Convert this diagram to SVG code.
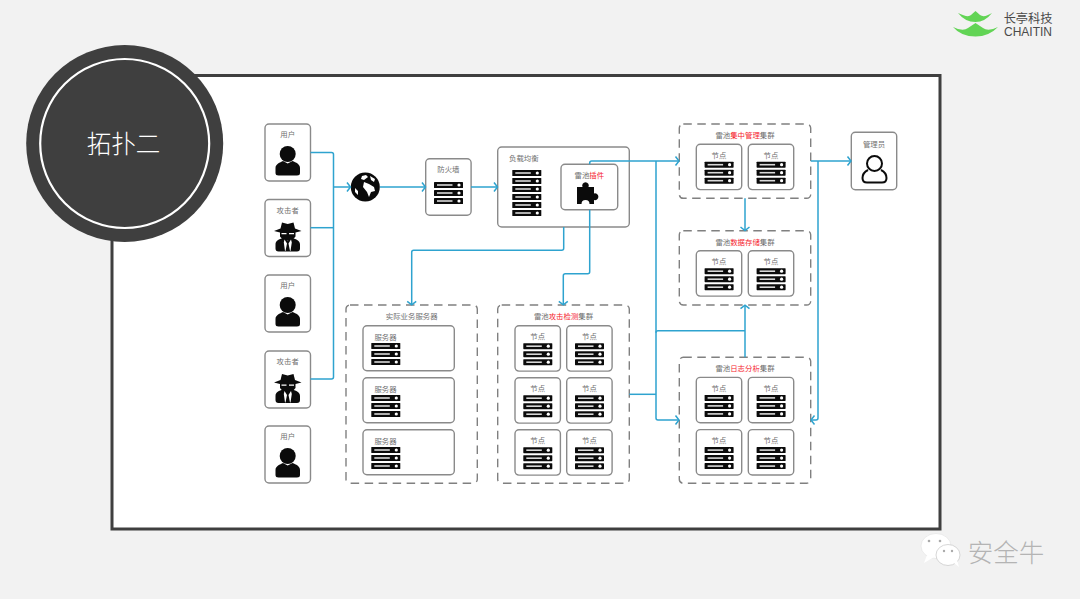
<svg xmlns="http://www.w3.org/2000/svg" xmlns:xlink="http://www.w3.org/1999/xlink" width="1080" height="599" viewBox="0 0 1080 599">
<style>
text{font-family:"Noto Sans CJK SC","Liberation Sans",sans-serif;font-size:7.4px;fill:#707070;text-anchor:middle}
.red{fill:#f5222d}
.box{fill:#fff;stroke:#8a8a8a;stroke-width:1.4}
.dash{fill:#fff;stroke:#808080;stroke-width:1.4;stroke-dasharray:8.500 5.500}
.wire{fill:none;stroke:#2ea3cf;stroke-width:1.5;stroke-linejoin:round}
</style>
<defs>
<marker id="chev" markerUnits="userSpaceOnUse" markerWidth="10" markerHeight="12" refX="7" refY="6" orient="auto"><path d="M3.500 1.500L7 6L3.500 10.500" fill="none" stroke="#2ea3cf" stroke-width="1.500"/></marker>
<g id="row"><rect width="29" height="6" rx=".6" fill="#0b0b0b"/><rect x="3" y="2.200" width="15.500" height="1.600" fill="#d8d8d8"/><circle cx="25" cy="3" r="1.600" fill="#fff"/></g>
<g id="srv"><use xlink:href="#row"/><use xlink:href="#row" y="8"/><use xlink:href="#row" y="16"/></g>
<g id="node"><rect class="box" width="45.400" height="45.400" rx="4"/><text x="22.700" y="13.500">节点</text><use xlink:href="#srv" x="8.300" y="17.500"/></g>
<g id="person" fill="#0b0b0b"><circle cx="22.700" cy="30" r="8"/><path d="M10.500 49V44C10.500 40 15 38.500 18 37L22.700 39.500L27.500 37C31 38.500 35 40 35 44V49Q35 51.500 32 51.500H13.500Q10.500 51.500 10.500 49Z"/></g>
<g id="spy"><path fill="#0b0b0b" d="M15.500 29L17 23L22.700 24.500L28.500 23L30 29L36.500 31.500L30.500 33V37L27 41H18.500L15 37V33L9 31.500Z"/><path fill="#fff" d="M16.500 33.500H21.500V34.800H16.500ZM24 33.500H29V34.800H24Z"/><path fill="#0b0b0b" d="M10.500 49V45C10.500 41 14 39.500 18 38.500L22.700 41L27.500 38.500C31 39.500 35 41 35 45V49Q35 52 32 52H13.500Q10.500 52 10.500 49Z"/><path fill="#fff" d="M19.500 40L22 44L20.500 51.500H20L18.800 43ZM26 40L26.800 43L25.500 51.500H25L23.500 44Z"/></g>
</defs>
<rect width="1080" height="599" fill="#f2f2f2"/>
<rect id="frame" x="112" y="75.500" width="828" height="453.500" fill="#fff" stroke="#3f3f3f" stroke-width="3"/>
<g id="badge"><circle cx="124.700" cy="143.500" r="98.500" fill="#3f3f3f"/><circle cx="124.700" cy="143.500" r="84.500" fill="none" stroke="#fff" stroke-width="2.200"/><text x="123.500" y="152.500" style="font-size:24.500px;fill:#fff;font-weight:300">拓扑二</text></g>
<g id="logo"><path fill="#62d455" d="M958 13Q968 18 971 15L975.500 11L980 15Q984 18 992 13Q985 22 975.500 22Q965 22 958 13Z"/><path fill="#62d455" d="M953 27Q963 32 968 28L975.500 23L983 28Q988 32 998 27Q989 36.500 975.500 36.500Q961 36.500 953 27Z"/><text x="1028" y="23" style="font-size:12.200px;fill:#4a4a4a">长亭科技</text><text x="1028" y="36" textLength="48" lengthAdjust="spacingAndGlyphs" style="font-size:12px;fill:#4a4a4a;font-family:'Liberation Sans',sans-serif">CHAITIN</text></g>
<g id="watermark"><ellipse cx="936" cy="546" rx="15" ry="12.500" fill="#fff" stroke="#e0e0e0" stroke-width=".6"/><path d="M927 555L924 563L934 557Z" fill="#fff"/><ellipse cx="948" cy="555" rx="12" ry="10.500" fill="#fff" stroke="#c4c4c4" stroke-width=".7"/><path d="M954 563L959 567L957 560Z" fill="#fff"/><circle cx="929" cy="541" r="1.300" fill="#aaa"/><circle cx="940" cy="541" r="1.300" fill="#aaa"/><circle cx="944" cy="551" r="1.200" fill="#aaa"/><circle cx="952" cy="551" r="1.200" fill="#aaa"/><text x="1006" y="562" style="font-size:25.500px;fill:#b4b4b4;font-weight:300">安全牛</text></g>

<g id="user1" transform="translate(265 124)"><rect class="box" width="45.500" height="57" rx="4"/><text x="22.700" y="12.500">用户</text><use xlink:href="#person"/></g>
<g id="attacker1" transform="translate(265 199.500)"><rect class="box" width="45.500" height="57" rx="4"/><text x="22.700" y="13">攻击者</text><use xlink:href="#spy"/></g>
<g id="user2" transform="translate(265 275)"><rect class="box" width="45.500" height="57" rx="4"/><text x="22.700" y="13">用户</text><use xlink:href="#person"/></g>
<g id="attacker2" transform="translate(265 351)"><rect class="box" width="45.500" height="57" rx="4"/><text x="22.700" y="13">攻击者</text><use xlink:href="#spy"/></g>
<g id="user3" transform="translate(265 426)"><rect class="box" width="45.500" height="57" rx="4"/><text x="22.700" y="13">用户</text><use xlink:href="#person"/></g>

<g id="internet"><circle cx="365.300" cy="187" r="14.500" fill="#0b0b0b"/><path fill="#fff" d="M362 176L366 175L368 177L364 180L361 179ZM364 182L369 184L374 187L375 191L371 192L369 197L367 192L363 187ZM370 176L375 179L374 182L371 180ZM355 188L358 191L358 195L355 192Z"/></g>
<g id="firewall"><rect class="box" x="425.700" y="158.700" width="45.400" height="56.600" rx="4"/><text x="448.400" y="172">防火墙</text><use xlink:href="#srv" x="434" y="182"/></g>
<g id="loadbalancer"><rect class="box" x="497.700" y="147" width="131.600" height="80" rx="4"/><text x="509" y="160.500" style="text-anchor:start">负载均衡</text><use xlink:href="#row" x="512.300" y="170"/><use xlink:href="#row" x="512.300" y="178"/><use xlink:href="#row" x="512.300" y="186"/><use xlink:href="#row" x="512.300" y="194"/><use xlink:href="#row" x="512.300" y="202"/><use xlink:href="#row" x="512.300" y="210"/></g>
<g id="plugin"><rect class="box" x="561" y="164.300" width="56.700" height="45.400" rx="4"/><text x="589.300" y="178">雷池<tspan class="red">插件</tspan></text><path fill="#0b0b0b" d="M577 187H582.500A3.300 3.300 0 1 1 588.500 187H594V193.500A3.400 3.400 0 1 1 594 200V204H589.500A4 4 0 0 0 581.500 204H577Z"/></g>
<g id="admin"><rect class="box" x="851.300" y="132.300" width="45.400" height="57.400" rx="4"/><text x="874" y="146.500">管理员</text><circle cx="874.500" cy="163.500" r="7.500" fill="#fff" stroke="#0b0b0b" stroke-width="2"/><path d="M868 170C864 172 862.500 175 862.500 178C862.500 181 864 182.500 867 182.500H882C885 182.500 886.500 181 886.500 178C886.500 175 885 172 881 170" fill="none" stroke="#0b0b0b" stroke-width="2"/></g>

<g id="business-cluster"><rect class="dash" x="346" y="305" width="131.300" height="178.300" rx="4"/><text x="411.700" y="319">实际业务服务器</text>
<rect class="box" x="363" y="325.700" width="91.300" height="45" rx="4"/><text x="385.500" y="339.500">服务器</text><use xlink:href="#srv" x="371.300" y="343"/>
<rect class="box" x="363" y="377.700" width="91.300" height="45" rx="4"/><text x="385.500" y="391.500">服务器</text><use xlink:href="#srv" x="371.300" y="395"/>
<rect class="box" x="363" y="429.700" width="91.300" height="45" rx="4"/><text x="385.500" y="443.500">服务器</text><use xlink:href="#srv" x="371.300" y="447"/></g>

<g id="detect-cluster"><rect class="dash" x="497.700" y="305" width="131.600" height="178.300" rx="4"/><text x="563.500" y="319">雷池<tspan class="red">攻击检测</tspan>集群</text>
<use xlink:href="#node" x="515" y="325.700"/><use xlink:href="#node" x="566.700" y="325.700"/><use xlink:href="#node" x="515" y="377.700"/><use xlink:href="#node" x="566.700" y="377.700"/><use xlink:href="#node" x="515" y="429.700"/><use xlink:href="#node" x="566.700" y="429.700"/></g>

<g id="manage-cluster"><rect class="dash" x="679.300" y="124" width="131.400" height="74.300" rx="4"/><text x="745" y="137.500">雷池<tspan class="red">集中管理</tspan>集群</text><use xlink:href="#node" x="696.300" y="144.200"/><use xlink:href="#node" x="748.300" y="144.200"/></g>
<g id="storage-cluster"><rect class="dash" x="679.300" y="230.700" width="131.400" height="74.300" rx="4"/><text x="745" y="244.500">雷池<tspan class="red">数据存储</tspan>集群</text><use xlink:href="#node" x="696.300" y="250.700"/><use xlink:href="#node" x="748.300" y="250.700"/></g>
<g id="log-cluster"><rect class="dash" x="679.300" y="357.300" width="131.400" height="126" rx="4"/><text x="745" y="371">雷池<tspan class="red">日志分析</tspan>集群</text><use xlink:href="#node" x="696.300" y="377.400"/><use xlink:href="#node" x="748.300" y="377.400"/><use xlink:href="#node" x="696.300" y="429.600"/><use xlink:href="#node" x="748.300" y="429.600"/></g>

<g id="connectors">
<path class="wire" d="M310.500 152.500H331.500Q333.500 152.500 333.500 154.500V377Q333.500 379 331.500 379H310.500"/>
<path class="wire" d="M310.500 227.700H333.500"/>
<path class="wire" marker-end="url(#chev)" d="M333.500 187H350.500"/>
<path class="wire" marker-end="url(#chev)" d="M380 187H425.500"/>
<path class="wire" marker-end="url(#chev)" d="M471 187H497.500"/>
<path class="wire" marker-end="url(#chev)" d="M589.700 164.300V163Q589.700 161 591.700 161H679"/>
<path class="wire" marker-end="url(#chev)" d="M589.700 209.700V271.700Q589.700 273.700 587.700 273.700H565.300Q563.300 273.700 563.300 275.700V304.800"/>
<path class="wire" marker-end="url(#chev)" d="M563.700 227V248.300Q563.700 250.300 561.700 250.300H413.700Q411.700 250.300 411.700 252.300V304.800"/>
<path class="wire" marker-end="url(#chev)" d="M656 161V418Q656 420 658 420H679"/>
<path class="wire" d="M629.300 394.300H656"/>
<path class="wire" d="M656 332.700Q656 330.700 658 330.700H745"/>
<path class="wire" marker-end="url(#chev)" d="M745 357.300V305.200"/>
<path class="wire" marker-end="url(#chev)" d="M745 198.300V230.500"/>
<path class="wire" marker-end="url(#chev)" d="M810.700 161H851"/>
<path class="wire" marker-end="url(#chev)" d="M818 161V418Q818 420 816 420H811"/>
</g>
</svg>
